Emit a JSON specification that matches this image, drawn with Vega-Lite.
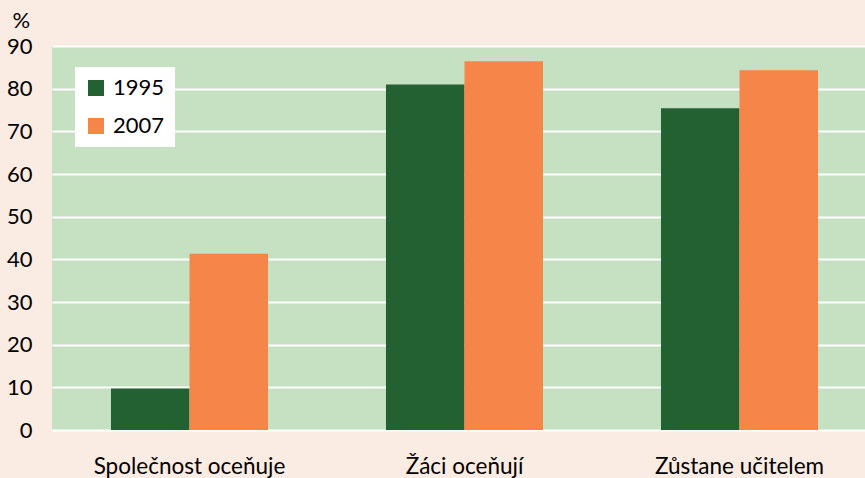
{
  "$schema": "https://vega.github.io/schema/vega-lite/v6.json",
  "autosize": "none",
  "width": 825,
  "height": 384,
  "padding": {"left": 52, "top": 46, "right": 0, "bottom": 48},
  "background": "#FBECE3",
  "view": {"fill": "#C5E1C2", "stroke": null},
  "config": {"font": "Lato"},
  "data": {
    "values": [
      {"cat": "Společnost oceňuje", "year": "1995", "value": 9.7},
      {"cat": "Společnost oceňuje", "year": "2007", "value": 41.3},
      {"cat": "Žáci oceňují", "year": "1995", "value": 81.0},
      {"cat": "Žáci oceňují", "year": "2007", "value": 86.4},
      {"cat": "Zůstane učitelem", "year": "1995", "value": 75.4},
      {"cat": "Zůstane učitelem", "year": "2007", "value": 84.3}
    ]
  },
  "mark": {"type": "bar"},
  "encoding": {
    "x": {
      "field": "cat", "type": "nominal", "sort": null,
      "scale": {"paddingInner": 0.429, "paddingOuter": 0.2145},
      "axis": {"title": null, "labelAngle": 0, "domain": false, "ticks": false, "labelFontSize": 22.5, "labelColor": "#000", "labelPadding": 25, "labelLimit": 400}
    },
    "xOffset": {"field": "year", "type": "nominal"},
    "y": {
      "field": "value", "type": "quantitative",
      "scale": {"domain": [0, 90], "nice": false},
      "axis": {"values": [0,10,20,30,40,50,60,70,80,90], "title": "%", "titleAngle": 0, "titleX": -40, "titleY": -19, "titleBaseline": "alphabetic", "titleFontSize": 22, "titleFontWeight": "normal", "titleColor": "#000", "titleAlign": "left", "domain": false, "ticks": false, "grid": true, "gridColor": "#FFFFFF", "gridWidth": 2, "labelFontSize": 22, "labelColor": "#000", "labelPadding": 20}
    },
    "color": {
      "field": "year", "type": "nominal",
      "scale": {"domain": ["1995", "2007"], "range": ["#236133", "#F68549"]},
      "legend": {"title": null, "orient": "none", "legendX": 23, "legendY": 21, "fillColor": "#FFFFFF", "padding": 10, "symbolType": "square", "symbolSize": 256, "symbolStrokeWidth": 0, "labelFontSize": 22, "labelColor": "#000", "rowPadding": 16, "labelOffset": 6}
    }
  }
}
